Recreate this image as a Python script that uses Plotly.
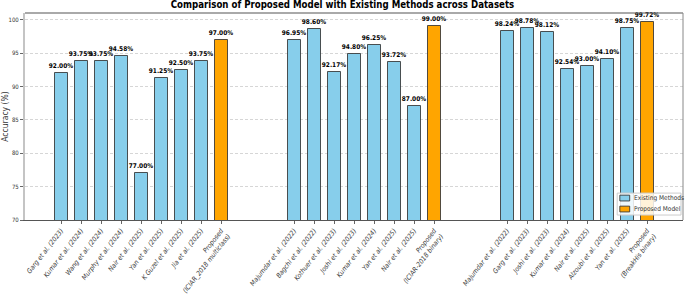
import plotly.graph_objects as go

title = "Comparison of Proposed Model with Existing Methods across Datasets"

g1_labels = ["Garg et al. (2023)", "Kumar et al. (2024)", "Wang et al. (2024)", "Murphy et al. (2024)",
             "Nair et al. (2025)", "Yan et al. (2025)", "K Guzel et al. (2025)", "Jia et al. (2025)",
             "Proposed<br>(ICIAR_2018 multiclass)"]
g1_values = [92.00, 93.75, 93.75, 94.58, 77.00, 91.25, 92.50, 93.75, 97.00]

g2_labels = ["Majumdar et al. (2022)", "Bagchi et al. (2022)", "Kothuer et al. (2023)", "Joshi et al. (2023)",
             "Kumar et al. (2024)", "Yan et al. (2025)", "Nair et al. (2025)",
             "Proposed<br>(ICIAR-2018 binary)"]
g2_values = [96.95, 98.60, 92.17, 94.80, 96.25, 93.72, 87.00, 99.00]

g3_labels = ["Majumdar et al. (2022)", "Garg et al. (2023)", "Joshi et al. (2023)", "Kumar et al. (2024)",
             "Nair et al. (2025)", "Alzoubi et al. (2025)", "Yan et al. (2025)",
             "Proposed<br>(BreakHis binary)"]
g3_values = [98.24, 98.78, 98.12, 92.54, 93.00, 94.10, 98.75, 99.72]

legend_names = ["Existing Methods", "Proposed Model"]
colors = ["#87CEEB", "#FFA500"]

GAP = 3.65
groups = [(g1_labels, g1_values), (g2_labels, g2_values), (g3_labels, g3_values)]

ex_x, ex_y, pr_x, pr_y = [], [], [], []
tickvals, ticktext = [], []
start = 0.0
for labels, values in groups:
    n = len(values)
    for i, (lab, v) in enumerate(zip(labels, values)):
        x = start + i
        tickvals.append(x)
        ticktext.append(lab)
        if i == n - 1:
            pr_x.append(x); pr_y.append(v)
        else:
            ex_x.append(x); ex_y.append(v)
    start = start + (n - 1) + GAP
last_x = tickvals[-1]

FONT = "DejaVu Sans Condensed, DejaVu Sans"
EDGE = "rgba(50,50,50,0.85)"

fig = go.Figure()
for xs, ys, name, col in [(ex_x, ex_y, legend_names[0], colors[0]), (pr_x, pr_y, legend_names[1], colors[1])]:
    fig.add_trace(go.Bar(
        x=xs, y=ys, name=name, width=0.65, showlegend=False,
        marker=dict(color=col, line=dict(color=EDGE, width=1)),
        text=[f"{v:.2f}%" for v in ys], textposition="outside", cliponaxis=False,
        constraintext="none",
        textfont=dict(size=6.5, color="black", family=FONT, weight="bold"),
    ))

fig.update_layout(
    width=685, height=297,
    margin=dict(l=25, r=2, t=13, b=77, autoexpand=False),
    paper_bgcolor="white", plot_bgcolor="white",
    font=dict(family=FONT, size=6.5, color="#333"),
    title=dict(text=f"<b>{title}</b>", x=0.5, xanchor="center", y=0.995, yanchor="top",
               font=dict(family=FONT, size=9.6, color="black")),
    showlegend=False,
    bargap=0,
)
fig.update_yaxes(
    range=[70, 101], tickvals=[70, 75, 80, 85, 90, 95, 100],
    showgrid=True, gridcolor="#d6d6d6", griddash="3px,2px", gridwidth=0.6,
    showline=True, linecolor="#c4c4c4", linewidth=2,
    ticks="outside", ticklen=3, tickcolor="#666",
    tickfont=dict(size=6, family=FONT, color="#333"),
    title=dict(text="Accuracy (%)", font=dict(size=8.5, family=FONT, color="#333"), standoff=3),
    zeroline=False, automargin=False,
)
fig.update_xaxes(
    range=[-1.8, last_x + 1.8], tickvals=tickvals, ticktext=[f"<i>{t}</i>" for t in ticktext],
    tickangle=-52, showgrid=False,
    showline=True, linecolor="#555", linewidth=1.2,
    ticks="outside", ticklen=3, tickcolor="#666",
    tickfont=dict(size=6.8, family=FONT, color="#3a3a3a"),
    zeroline=False, automargin=False,
)
# top and right frame
fig.add_shape(type="line", xref="paper", yref="paper", x0=0, x1=1, y0=1, y1=1,
              line=dict(color="#555", width=1.2))
fig.add_shape(type="line", xref="paper", yref="paper", x0=1, x1=1, y0=0, y1=1,
              line=dict(color="#888", width=1))

# legend (drawn manually, lower right)
fig.add_shape(type="rect", xref="paper", yref="paper", x0=0.900, x1=0.997, y0=0.024, y1=0.130,
              line=dict(color="#cccccc", width=1), fillcolor="rgba(255,255,255,0.85)")
leg_rows = [0.106, 0.053]
for yc, name, col in zip(leg_rows, legend_names, colors):
    fig.add_shape(type="rect", xref="paper", yref="paper", x0=0.904, x1=0.919,
                  y0=yc - 0.014, y1=yc + 0.014, line=dict(color=EDGE, width=1), fillcolor=col)
    fig.add_annotation(xref="paper", yref="paper", x=0.923, y=yc, text=name, showarrow=False,
                       xanchor="left", yanchor="middle", font=dict(size=6.5, family=FONT, color="#333"))

fig.write_html("out.html", config={"displayModeBar": False},
               post_script="document.body.style.margin='0';document.body.style.padding='0';")
